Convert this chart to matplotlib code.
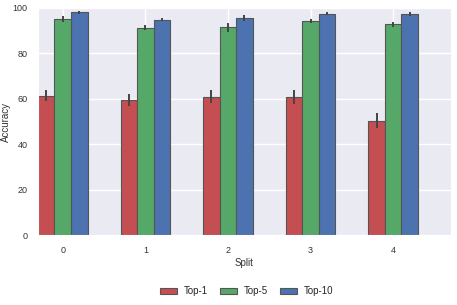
import numpy as np
import matplotlib
matplotlib.use('Agg')
import matplotlib.pyplot as plt
import seaborn as sns

sns.set_style('darkgrid')
plt.rcParams['font.family'] = ['Liberation Sans', 'DejaVu Sans']

splits = ['0', '1', '2', '3', '4']
top1 = [61.5, 59.5, 61.0, 60.8, 50.5]
top5 = [95.1, 91.3, 91.5, 94.2, 92.8]
top10 = [98.0, 94.8, 95.6, 97.4, 97.2]
top1_err = [2.3, 2.8, 2.8, 3.2, 3.3]
top5_err = [1.2, 1.2, 2.0, 0.9, 1.0]
top10_err = [0.6, 0.6, 1.2, 0.6, 0.8]

series = [('Top-1', top1, top1_err, '#C44E52'),
          ('Top-5', top5, top5_err, '#55A868'),
          ('Top-10', top10, top10_err, '#4C72B0')]

fig = plt.figure(figsize=(4.57, 3.05), dpi=100)
ax = fig.add_axes([0.083, 0.228, 0.904, 0.746])

x = np.arange(len(splits))
w = 0.2
for i, (name, vals, err, clr) in enumerate(series):
    ax.bar(x + (i - 1) * w, vals, w, yerr=err, color=clr, label=name,
           edgecolor='#555555', linewidth=0.8, zorder=2,
           error_kw=dict(ecolor='#444444', elinewidth=1.4, capsize=0, zorder=3))

ax.set_xlim(-0.3, 4.7)
ax.set_ylim(0, 100)
ax.set_xticks(x)
ax.set_xticklabels(splits)
ax.tick_params(labelsize=6.5, colors='#333333', pad=4)
ax.set_xlabel('Split', fontsize=7, color='#333333', labelpad=2)
ax.set_ylabel('Accuracy', fontsize=7, color='#333333', labelpad=1)
ax.grid(True, color='white', linewidth=1)
ax.set_axisbelow(True)

ax.legend(loc='upper center', bbox_to_anchor=(0.505, -0.185), ncol=3, frameon=False,
          fontsize=7, handlelength=1.7, handleheight=0.6, handletextpad=0.7,
          columnspacing=1.3)

fig.savefig('out.png', dpi=100)
